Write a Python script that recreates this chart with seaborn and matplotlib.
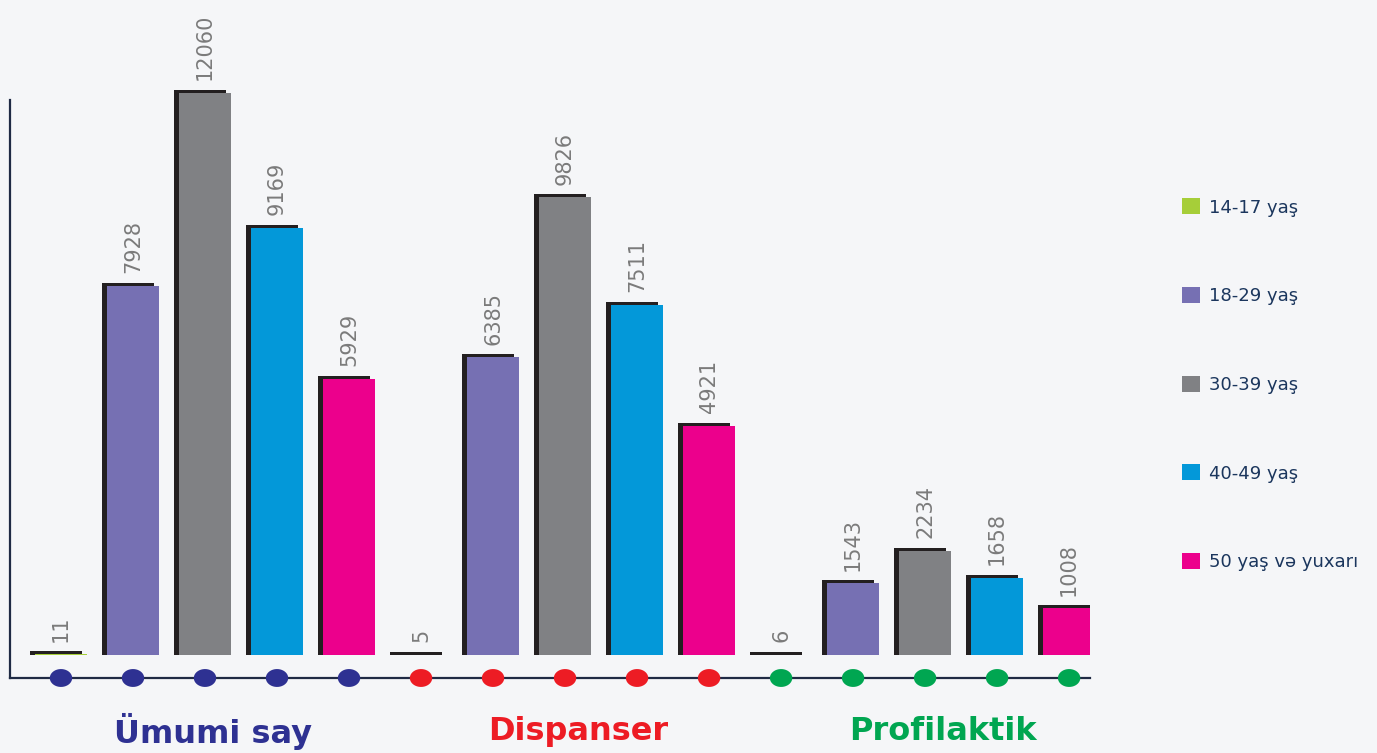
import numpy as np
import pandas as pd
import matplotlib
matplotlib.use('Agg')
import matplotlib.pyplot as plt
import matplotlib.transforms as mtransforms
from matplotlib.patches import Rectangle
import seaborn as sns

# Data
groups = ['Ümumi say', 'Dispanser', 'Profilaktik']
ages = ['14-17 yaş', '18-29 yaş', '30-39 yaş', '40-49 yaş', '50 yaş və yuxarı']
umumi = [11, 7928, 12060, 9169, 5929]
dispanser = [5, 6385, 9826, 7511, 4921]
profilaktik = [6, 1543, 2234, 1658, 1008]

age_colors = ['#a6ce39', '#7670b3', '#808184', '#0398d9', '#ec008c']
group_colors = ['#2e3192', '#ed1c24', '#00a651']

rows = []
for gi, (g, vals) in enumerate(zip(groups, [umumi, dispanser, profilaktik])):
    for ai, (a, v) in enumerate(zip(ages, vals)):
        rows.append({'group': g, 'age': a, 'value': v, 'pos': gi * 5 + ai})
df = pd.DataFrame(rows)

bg = '#f5f6f8'
sns.set_style('white')
plt.rcParams['font.family'] = ['DejaVu Sans']

fig = plt.figure(figsize=(13.77, 7.53), dpi=100, facecolor=bg)
ax = fig.add_axes([10 / 1377, 75 / 753, 1080 / 1377, 678 / 753])
ax.set_facecolor('none')

# pixels per data unit (12060 bar ~562 px tall)
k = 562 / 12060

# bars
sns.barplot(data=df, x='pos', y='value', hue='age', hue_order=ages,
            palette=age_colors, dodge=False, width=0.72, saturation=1,
            edgecolor='none', linewidth=0, ax=ax, zorder=3)

# dark 3D edge (left side + top rim) behind each bar
shift = mtransforms.ScaledTranslation(-0.05, 0, fig.dpi_scale_trans)
for c in ax.containers:
    for p in c:
        if np.isnan(p.get_height()):
            continue
        r = Rectangle(p.get_xy(), p.get_width(), p.get_height() + 3 / k,
                      facecolor='#231f20', edgecolor='none', zorder=2,
                      transform=ax.transData + shift)
        ax.add_patch(r)
    ax.bar_label(c, rotation=90, padding=9, color='#7b7b7b', fontsize=15)

# scale
ax.set_ylim(-23 / k, 655 / k)
ax.set_xlim(-0.708, 14.29)

# group dots along the axis line
t = np.linspace(0, 2 * np.pi, 40)
ell = np.column_stack([np.cos(t), 0.8 * np.sin(t)])
dots = df.copy()
dots['y'] = ax.get_ylim()[0]
sns.scatterplot(data=dots, x='pos', y='y', hue='group', hue_order=groups,
                palette=group_colors, marker=ell, s=260, linewidth=0,
                ax=ax, clip_on=False, zorder=5, legend=False)

for s in ['top', 'right']:
    ax.spines[s].set_visible(False)
for s in ['left', 'bottom']:
    ax.spines[s].set_color('#1f2a44')
    ax.spines[s].set_linewidth(1.6)
ax.spines['left'].set_bounds(ax.get_ylim()[0], (655 - 100) / k)
ax.set_xticks([])
ax.set_yticks([])
ax.set_xlabel('')
ax.set_ylabel('')

# group titles
tr = mtransforms.blended_transform_factory(ax.transData, fig.transFigure)
for x, g, col in zip([2.11, 7.18, 12.25], groups, group_colors):
    ax.text(x, 0.028, g, transform=tr, ha='center', va='center',
            fontsize=23, fontweight='bold', color=col)

sns.move_legend(ax, 'upper left', bbox_to_anchor=(1166 / 1377, (753 - 182) / 753),
                bbox_transform=fig.transFigure, frameon=False, title=None,
                labelspacing=3.9, handlelength=1.0, handleheight=1.0,
                handletextpad=0.5, fontsize=13)
for txt in ax.get_legend().get_texts():
    txt.set_color('#1b365d')

fig.savefig('out.png', dpi=100, facecolor=bg)
